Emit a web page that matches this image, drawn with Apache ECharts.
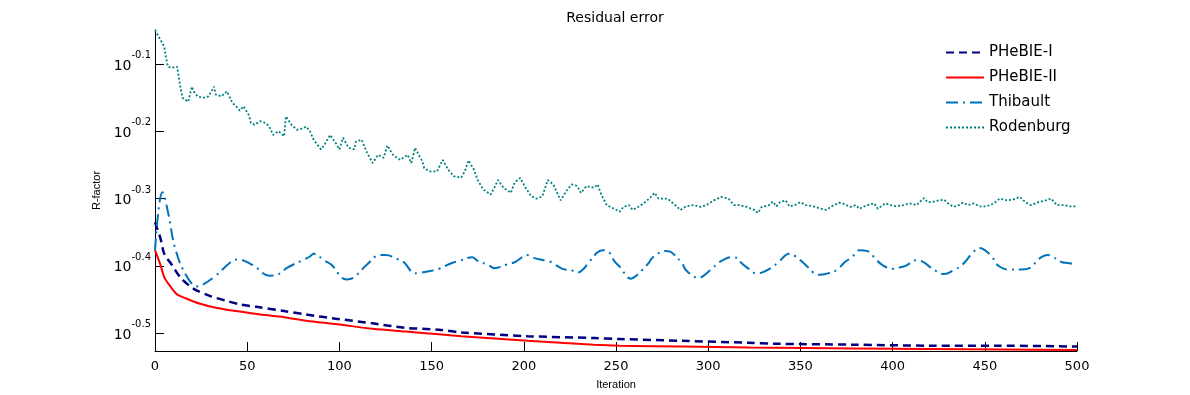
<!DOCTYPE html>
<html>
<head>
<meta charset="utf-8">
<script src="https://cdn.jsdelivr.net/npm/echarts@6/dist/echarts.min.js"></script>
<style>
  html, body { margin: 0; padding: 0; background: #fff; }
  #chart { width: 1190px; height: 395px; }
</style>
</head>
<body>
<div id="chart"></div>
<script>
// iterations / R-factor values
var pheIIter = [0, 3, 5, 9, 14, 21, 30, 39, 46, 55, 70, 82, 99, 118, 136, 154, 166, 202, 238, 252, 286, 322, 336, 379, 420, 457, 500];
var pheIVal  = [0.462, 0.437, 0.415, 0.400, 0.382, 0.368, 0.359, 0.353, 0.349, 0.346, 0.341, 0.337, 0.332, 0.327, 0.322, 0.320, 0.317, 0.313, 0.311, 0.310, 0.308, 0.306, 0.305, 0.304, 0.303, 0.303, 0.302];

var pheIIIter = [0, 3, 5, 8, 12, 17, 24, 33, 44, 57, 70, 82, 99, 118, 136, 154, 166, 202, 238, 252, 286, 322, 380, 420, 460, 500];
var pheIIVal  = [0.420, 0.399, 0.383, 0.372, 0.361, 0.356, 0.350, 0.345, 0.341, 0.337, 0.334, 0.330, 0.326, 0.321, 0.318, 0.315, 0.313, 0.308, 0.304, 0.303, 0.302, 0.301, 0.300, 0.2995, 0.299, 0.2985];

var thibIter = [0, 2, 4, 7, 11, 17, 23, 25, 33, 41, 45, 53, 62, 66, 72, 81, 84, 86, 92, 96, 101, 104, 108, 115, 122, 125, 132, 135, 141, 144, 151, 154, 161, 165, 172, 175, 181, 184, 191, 195, 202, 204, 212, 215, 221, 226, 229, 232, 235, 240, 243, 247, 249, 252, 258, 260, 264, 268, 270, 277, 280, 286, 288, 295, 297, 301, 306, 308, 312, 316, 318, 322, 326, 329, 334, 338, 344, 347, 353, 357, 360, 365, 370, 374, 378, 382, 386, 390, 394, 400, 404, 407, 413, 417, 420, 423, 428, 433, 438, 443, 447, 450, 454, 457, 463, 470, 475, 479, 484, 486, 492, 495, 500];
var thibVal  = [0.420, 0.484, 0.512, 0.479, 0.422, 0.385, 0.371, 0.372, 0.385, 0.403, 0.407, 0.399, 0.385, 0.386, 0.396, 0.407, 0.411, 0.415, 0.405, 0.399, 0.383, 0.380, 0.383, 0.400, 0.413, 0.413, 0.407, 0.403, 0.388, 0.389, 0.392, 0.394, 0.402, 0.405, 0.410, 0.405, 0.399, 0.395, 0.400, 0.403, 0.413, 0.410, 0.405, 0.403, 0.394, 0.392, 0.389, 0.393, 0.402, 0.417, 0.420, 0.415, 0.405, 0.397, 0.381, 0.383, 0.392, 0.403, 0.410, 0.419, 0.417, 0.401, 0.392, 0.382, 0.384, 0.392, 0.403, 0.406, 0.410, 0.409, 0.402, 0.394, 0.388, 0.389, 0.395, 0.403, 0.415, 0.412, 0.399, 0.389, 0.386, 0.388, 0.393, 0.403, 0.410, 0.420, 0.419, 0.410, 0.400, 0.394, 0.396, 0.398, 0.406, 0.403, 0.397, 0.392, 0.387, 0.392, 0.400, 0.415, 0.423, 0.420, 0.410, 0.399, 0.393, 0.393, 0.396, 0.407, 0.413, 0.412, 0.403, 0.402, 0.400];

var rodIter = [0, 3, 5, 6, 7, 9, 12, 13, 14, 15, 18, 20, 21, 23, 26, 29, 32, 33, 36, 39, 42, 44, 46, 48, 51, 52, 54, 57, 60, 62, 64, 67, 70, 71, 74, 77, 80, 82, 84, 86, 90, 92, 95, 98, 100, 102, 105, 108, 109, 112, 115, 118, 121, 124, 126, 129, 133, 137, 139, 141, 145, 146, 149, 153, 156, 159, 162, 166, 168, 170, 173, 175, 178, 182, 184, 186, 189, 193, 195, 198, 201, 204, 207, 210, 213, 216, 220, 223, 226, 229, 231, 234, 238, 240, 242, 245, 249, 252, 254, 257, 259, 262, 265, 268, 271, 273, 276, 278, 281, 285, 288, 292, 296, 299, 303, 307, 311, 314, 317, 321, 325, 327, 329, 333, 335, 337, 339, 342, 344, 347, 350, 353, 357, 361, 364, 367, 371, 373, 377, 380, 382, 386, 390, 392, 396, 399, 402, 406, 409, 413, 417, 419, 421, 425, 428, 430, 433, 436, 438, 441, 444, 447, 451, 455, 458, 462, 465, 469, 472, 475, 479, 483, 486, 489, 493, 496, 500];
var rodVal  = [0.892, 0.862, 0.843, 0.811, 0.787, 0.784, 0.787, 0.756, 0.727, 0.707, 0.698, 0.735, 0.723, 0.711, 0.707, 0.711, 0.735, 0.715, 0.711, 0.723, 0.695, 0.687, 0.677, 0.687, 0.666, 0.649, 0.645, 0.653, 0.649, 0.641, 0.623, 0.631, 0.620, 0.664, 0.645, 0.634, 0.637, 0.641, 0.631, 0.613, 0.593, 0.603, 0.623, 0.606, 0.593, 0.617, 0.596, 0.593, 0.609, 0.613, 0.586, 0.566, 0.582, 0.576, 0.601, 0.582, 0.572, 0.582, 0.566, 0.596, 0.569, 0.556, 0.550, 0.550, 0.572, 0.553, 0.541, 0.538, 0.550, 0.571, 0.553, 0.534, 0.517, 0.508, 0.520, 0.534, 0.520, 0.511, 0.529, 0.538, 0.520, 0.505, 0.501, 0.505, 0.534, 0.526, 0.498, 0.514, 0.526, 0.523, 0.511, 0.523, 0.520, 0.526, 0.508, 0.490, 0.484, 0.479, 0.487, 0.490, 0.482, 0.487, 0.493, 0.501, 0.511, 0.501, 0.501, 0.501, 0.493, 0.482, 0.488, 0.490, 0.487, 0.490, 0.498, 0.504, 0.501, 0.490, 0.490, 0.487, 0.482, 0.477, 0.487, 0.490, 0.496, 0.488, 0.495, 0.498, 0.488, 0.490, 0.495, 0.490, 0.488, 0.484, 0.482, 0.488, 0.494, 0.493, 0.487, 0.490, 0.484, 0.490, 0.493, 0.484, 0.493, 0.490, 0.488, 0.490, 0.493, 0.490, 0.502, 0.495, 0.495, 0.498, 0.499, 0.493, 0.487, 0.490, 0.494, 0.490, 0.493, 0.488, 0.488, 0.493, 0.501, 0.498, 0.499, 0.504, 0.495, 0.490, 0.495, 0.498, 0.501, 0.490, 0.490, 0.488, 0.488];

var xTicks = [0, 50, 100, 150, 200, 250, 300, 350, 400, 450, 500];
var yTicks = [0.316228, 0.398107, 0.501187, 0.630957, 0.794328]; // 10^-0.5 .. 10^-0.1

var FONT = 'DejaVu Sans, sans-serif';
var FONT_SMALL = 'Liberation Sans, Arial, sans-serif';

function pairs(xs, ys) {
    return xs.map(function (x, i) { return [x, ys[i]]; });
}

var chart = echarts.init(document.getElementById('chart'));
chart.setOption({
    animation: false,
    backgroundColor: '#fff',
    textStyle: { fontFamily: FONT, color: '#000' },
    title: {
        text: 'Residual error',
        left: 610,
        top: 6,
        textAlign: 'center',
        textStyle: { fontSize: 14, fontWeight: 'normal', color: '#000', fontFamily: FONT }
    },
    legend: {
        orient: 'vertical',
        left: 940,
        top: 40,
        itemWidth: 38,
        itemHeight: 14,
        itemGap: 10,
        itemStyle: { opacity: 0 },
        textStyle: { fontSize: 15, color: '#000', fontFamily: FONT },
        data: ['PHeBIE-I', 'PHeBIE-II', 'Thibault', 'Rodenburg']
    },
    grid: { left: 155, right: 113, top: 30, bottom: 43 },
    xAxis: {
        type: 'value',
        min: 0,
        max: 500,
        interval: 50,
        name: 'Iteration',
        nameLocation: 'middle',
        nameGap: 28,
        nameTextStyle: { fontSize: 11, color: '#000', fontFamily: FONT_SMALL },
        axisLine: { lineStyle: { color: '#000', width: 1 } },
        axisTick: { inside: true, length: 9, lineStyle: { color: '#000' } },
        axisLabel: {
            customValues: xTicks,
            margin: 9,
            fontSize: 13,
            color: '#000',
            fontFamily: FONT
        },
        splitLine: { show: false }
    },
    yAxis: {
        type: 'log',
        logBase: 10,
        min: 0.2975,
        max: 0.892,
        name: 'R-factor',
        nameLocation: 'middle',
        nameGap: 49,
        nameTextStyle: { fontSize: 11, color: '#000', fontFamily: FONT_SMALL },
        axisLine: { show: true, lineStyle: { color: '#000', width: 1 } },
        axisTick: { show: true, inside: true, length: 9, customValues: yTicks, lineStyle: { color: '#000' } },
        minorTick: { show: false },
        axisLabel: {
            customValues: yTicks,
            margin: 4,
            color: '#000',
            formatter: function (v) {
                var e = Math.round(Math.log10(v) * 10) / 10;
                return '{b|10}{e|' + e + '}';
            },
            rich: {
                b: { fontSize: 14, fontFamily: FONT, color: '#000', verticalAlign: 'middle', padding: [9, 0, 5, 0] },
                e: { fontSize: 10, fontFamily: FONT, color: '#000', verticalAlign: 'middle', padding: [0, 0, 17, 0] }
            }
        },
        splitLine: { show: false }
    },
    series: [
        {
            name: 'PHeBIE-I',
            type: 'line',
            symbol: 'none',
            smooth: 0.3,
            lineStyle: { color: '#000080', width: 2.5, type: [8, 5] },
            itemStyle: { color: '#000080' },
            data: pairs(pheIIter, pheIVal)
        },
        {
            name: 'PHeBIE-II',
            type: 'line',
            symbol: 'none',
            smooth: 0.3,
            lineStyle: { color: '#ff0000', width: 2 },
            itemStyle: { color: '#ff0000' },
            data: pairs(pheIIIter, pheIIVal)
        },
        {
            name: 'Thibault',
            type: 'line',
            symbol: 'none',
            smooth: 0.4,
            lineStyle: { color: '#0072bd', width: 2, type: [12, 5, 2, 5] },
            itemStyle: { color: '#0072bd' },
            data: pairs(thibIter, thibVal)
        },
        {
            name: 'Rodenburg',
            type: 'line',
            symbol: 'none',
            lineStyle: { color: '#008080', width: 1.8, type: [2, 2] },
            itemStyle: { color: '#008080' },
            data: pairs(rodIter, rodVal)
        }
    ]
});
</script>
</body>
</html>
